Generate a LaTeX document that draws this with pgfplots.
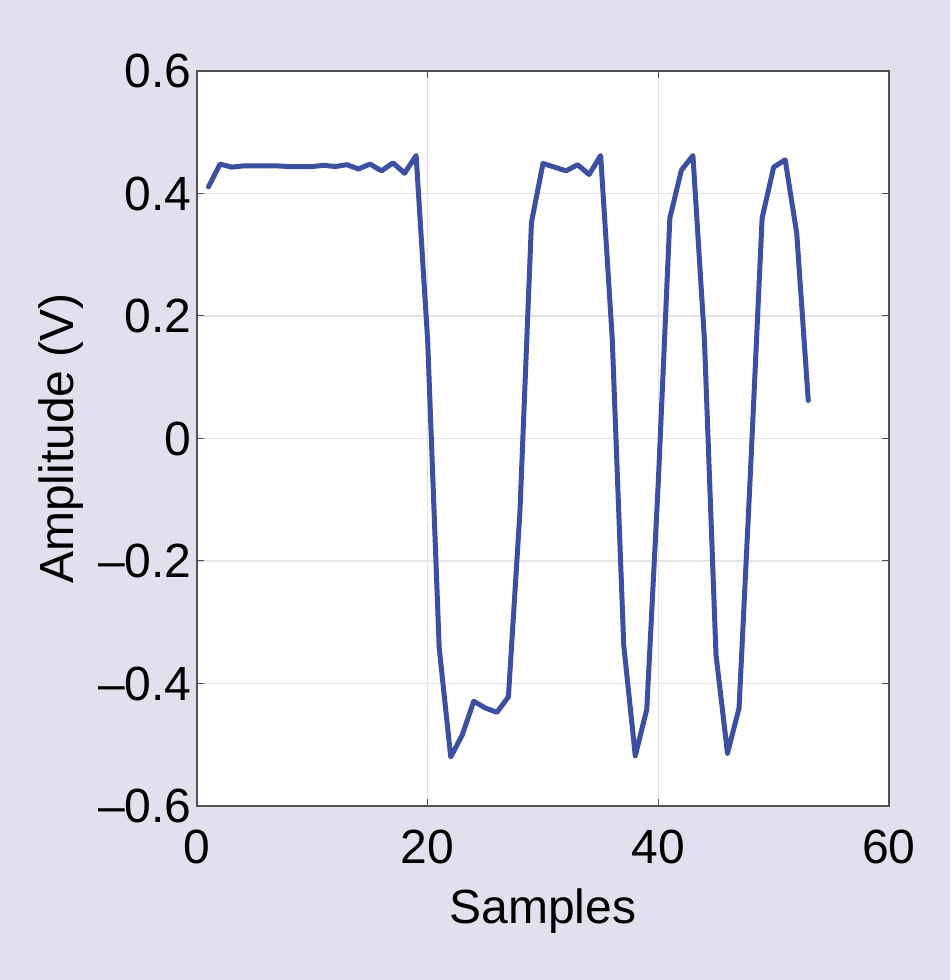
\documentclass[border=0pt]{standalone}
\usepackage{pgfplots}
\pgfplotsset{compat=1.18}
\usepackage{fontspec}
\setmainfont{Liberation Sans}
\definecolor{bgc}{RGB}{226,223,238}
\definecolor{linec}{RGB}{61,79,160}
\definecolor{gridc}{RGB}{228,228,228}
\definecolor{axc}{RGB}{80,80,80}
\begin{document}
\begin{tikzpicture}
\fill[bgc] (-197pt,-174pt) rectangle (753pt,806pt);
\begin{axis}[
  at={(0pt,0pt)}, anchor=south west,
  scale only axis,
  width=692pt, height=735pt,
  xmin=0, xmax=60, ymin=-0.6, ymax=0.6,
  xtick={0,20,40,60},
  ytick={-0.6,-0.4,-0.2,0,0.2,0.4,0.6},
  yticklabels={--0.6,--0.4,--0.2,0,0.2,0.4,0.6},
  xticklabels={0,20,40,60},
  tick align=inside,
  major tick length=7pt,
  tick style={axc, line width=1pt},
  axis line style={axc, line width=1.5pt},
  grid=major,
  major grid style={gridc, line width=1.2pt},
  axis background/.style={fill=white},
  tick label style={font=\fontsize{48}{56}\selectfont, text=black},
  yticklabel style={xshift=-2pt},
  xticklabel style={yshift=-20pt},
  label style={font=\fontsize{48}{56}\selectfont, text=black},
  xlabel={Samples},
  ylabel={Amplitude (V)},
  xlabel style={yshift=-18pt},
  ylabel style={yshift=8pt},
]
\addplot[linec, line width=5pt, line join=round, line cap=round] coordinates {
(1,0.411) (2,0.448) (3,0.443) (4,0.445) (5,0.445) (6,0.445) (7,0.445)
(8,0.444) (9,0.444) (10,0.444) (11,0.446) (12,0.444) (13,0.447) (14,0.440)
(15,0.448) (16,0.437) (17,0.450) (18,0.433) (19,0.462)
(20,0.16) (21,-0.342) (22,-0.52) (23,-0.484) (24,-0.429) (25,-0.440)
(26,-0.447) (27,-0.422) (28,-0.12) (29,0.353) (30,0.449) (31,0.443)
(32,0.437) (33,0.447) (34,0.431) (35,0.462) (36,0.165) (37,-0.337)
(38,-0.518) (39,-0.442) (40,-0.07) (41,0.36) (42,0.438) (43,0.462)
(44,0.16) (45,-0.353) (46,-0.514) (47,-0.44) (48,-0.05) (49,0.36)
(50,0.443) (51,0.455) (52,0.335) (53,0.062)
};
\end{axis}
\end{tikzpicture}
\end{document}
